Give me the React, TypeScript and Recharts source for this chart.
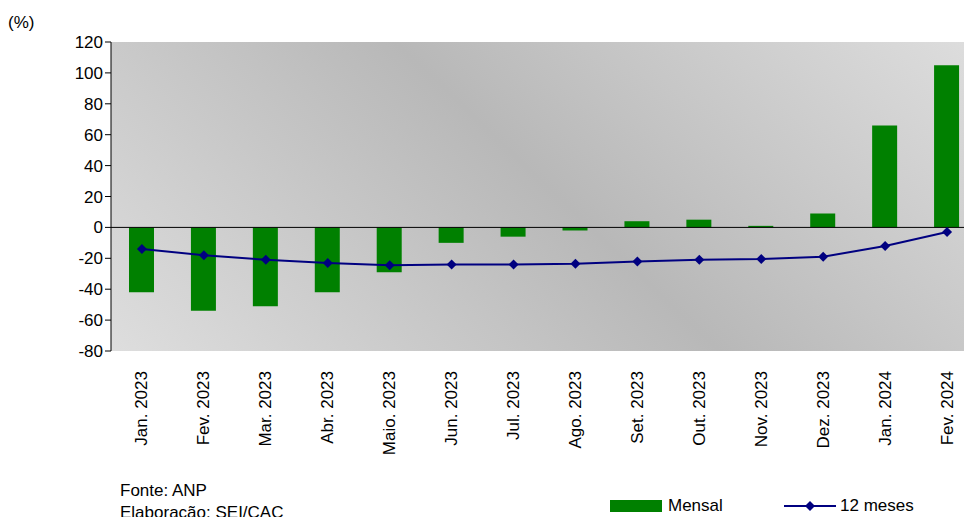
import { ComposedChart, Bar, Line, XAxis, YAxis, ReferenceLine, CartesianGrid } from 'recharts';

const categories = ['Jan. 2023', 'Fev. 2023', 'Mar. 2023', 'Abr. 2023', 'Maio. 2023', 'Jun. 2023', 'Jul. 2023', 'Ago. 2023', 'Set. 2023', 'Out. 2023', 'Nov. 2023', 'Dez. 2023', 'Jan. 2024', 'Fev. 2024'];
const mensal = [-42, -54, -51, -42, -29, -10, -6, -2, 4, 5, 1, 9, 66, 105];
const dozeMeses = [-14, -18, -21, -23, -24.5, -24, -24, -23.5, -22, -21, -20.5, -19, -12, -3];
const yTicks = [-80, -60, -40, -20, 0, 20, 40, 60, 80, 100, 120];

const data = categories.map((c, i) => ({ name: c, mensal: mensal[i], doze: dozeMeses[i] }));
const font = 'Liberation Sans, Arial, sans-serif';

const Diamond = (props: any) => {
  const { cx, cy } = props;
  if (cx == null) return null;
  return <path d={`M${cx} ${cy - 5}L${cx + 5} ${cy}L${cx} ${cy + 5}L${cx - 5} ${cy}Z`} fill="#000080" />;
};

const CatTick = (props: any) => {
  const { x, y, payload } = props;
  return (
    <text x={x} y={y + 12} transform={`rotate(-90 ${x} ${y + 12})`} textAnchor="end" dominantBaseline="central" fontSize={17} fontFamily={font} fill="#000">
      {payload.value}
    </text>
  );
};

export default function App() {
  return (
    <div style={{ position: 'absolute', left: 0, top: 0, width: 964, height: 517, background: '#fff', overflow: 'hidden', fontFamily: font }}>
      <div style={{ position: 'absolute', left: 8, top: 13, fontSize: 17 }}>(%)</div>
      <ComposedChart width={978} height={517} data={data} margin={{ top: 42, right: 0, left: 0, bottom: 0 }}>
        <defs>
          <linearGradient id="bg" gradientUnits="userSpaceOnUse" x1={111} y1={420} x2={760} y2={-260}>
            <stop offset="0%" stopColor="#e2e2e2" />
            <stop offset="50%" stopColor="#b8b8b8" />
            <stop offset="100%" stopColor="#e4e4e4" />
          </linearGradient>
        </defs>
        <CartesianGrid fill="url(#bg)" stroke="none" horizontal={false} vertical={false} />
        <XAxis dataKey="name" height={166} interval={0} tick={<CatTick />} tickLine={false} axisLine={false} />
        <YAxis domain={[-80, 120]} ticks={yTicks} width={111} interval={0} tick={{ fontSize: 17, fontFamily: font, fill: '#000' }} stroke="#000" tickSize={6} />
        <ReferenceLine y={0} stroke="#000" />
        <Bar dataKey="mensal" fill="#008000" barSize={25} isAnimationActive={false} />
        <Line dataKey="doze" stroke="#000080" strokeWidth={2} dot={<Diamond />} activeDot={false} isAnimationActive={false} />
      </ComposedChart>
      <div style={{ position: 'absolute', left: 120, top: 481, fontSize: 17 }}>Fonte: ANP</div>
      <div style={{ position: 'absolute', left: 120, top: 503, fontSize: 17 }}>Elaboração: SEI/CAC</div>
      <div style={{ position: 'absolute', left: 610, top: 496, display: 'flex', alignItems: 'center', fontSize: 17 }}>
        <span style={{ display: 'inline-block', width: 52, height: 12, background: '#008000', marginRight: 6 }} />Mensal
      </div>
      <div style={{ position: 'absolute', left: 784, top: 496, display: 'flex', alignItems: 'center', fontSize: 17 }}>
        <svg width={52} height={12} style={{ marginRight: 4 }}>
          <line x1={0} y1={6} x2={52} y2={6} stroke="#000080" strokeWidth={2} />
          <path d="M26 1L31 6L26 11L21 6Z" fill="#000080" />
        </svg>
        12 meses
      </div>
    </div>
  );
}
